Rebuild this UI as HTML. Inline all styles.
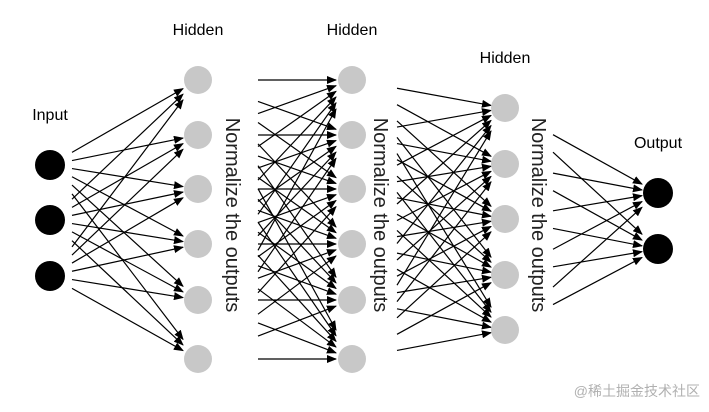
<!DOCTYPE html>
<html><head><meta charset="utf-8"><style>
html,body{margin:0;padding:0;background:#fff;}
svg{display:block}
text{font-family:"Liberation Sans","Noto Sans CJK SC",sans-serif;}
</style></head><body>
<svg id="s" width="709" height="412" viewBox="0 0 709 412" xmlns="http://www.w3.org/2000/svg">
<defs><marker id="a" markerWidth="10" markerHeight="8" refX="9" refY="4" orient="auto" markerUnits="userSpaceOnUse"><path d="M0,0 L10,4 L0,8 z" fill="#000"/></marker></defs>
<g id="lines" stroke="#000" stroke-width="1.2"></g>
<g id="nodes"></g>
<text x="198" y="35" font-size="16" text-anchor="middle">Hidden</text>
<text x="352" y="35" font-size="16" text-anchor="middle">Hidden</text>
<text x="505" y="63" font-size="16" text-anchor="middle">Hidden</text>
<text x="50" y="120" font-size="16" text-anchor="middle">Input</text>
<text x="658" y="148" font-size="16" text-anchor="middle">Output</text>
<text transform="translate(226,215) rotate(90)" font-size="20" text-anchor="middle" fill="#222">Normalize the outputs</text>
<text transform="translate(374,215) rotate(90)" font-size="20" text-anchor="middle" fill="#222">Normalize the outputs</text>
<text transform="translate(532,215) rotate(90)" font-size="20" text-anchor="middle" fill="#222">Normalize the outputs</text>
<text x="700" y="396" font-size="14" text-anchor="end" fill="#b0b0b0">@稀土掘金技术社区</text>
</svg>
<script>
var L=[{x:50,y:[165,220,276],c:"#000",r:15},
{x:198,y:[80,135,189,244,300,359],c:"#c8c8c8",r:14},
{x:352,y:[80,135,189,244,300,359],c:"#c8c8c8",r:14},
{x:505,y:[108,164,219,275,330],c:"#c8c8c8",r:14},
{x:658,y:[193,249],c:"#000",r:15}];
var S=[[72,183],[258,336],[397,491],[553,642]];
var ns="http://www.w3.org/2000/svg",lg=document.getElementById("lines"),ng=document.getElementById("nodes");
for(var i=0;i<4;i++){var A=L[i],B=L[i+1];
A.y.forEach(function(ya){B.y.forEach(function(yb){
var x1=S[i][0],x2=S[i][1];
var t1=(x1-A.x)/(B.x-A.x),t2=(x2-A.x)/(B.x-A.x);
var l=document.createElementNS(ns,"line");
l.setAttribute("x1",x1);l.setAttribute("y1",ya+(yb-ya)*t1);
l.setAttribute("x2",x2);l.setAttribute("y2",ya+(yb-ya)*t2);
l.setAttribute("marker-end","url(#a)");lg.appendChild(l);});});}
L.forEach(function(a){a.y.forEach(function(y){var c=document.createElementNS(ns,"circle");
c.setAttribute("cx",a.x);c.setAttribute("cy",y);c.setAttribute("r",a.r);c.setAttribute("fill",a.c);ng.appendChild(c);});});
</script>
</body></html>
